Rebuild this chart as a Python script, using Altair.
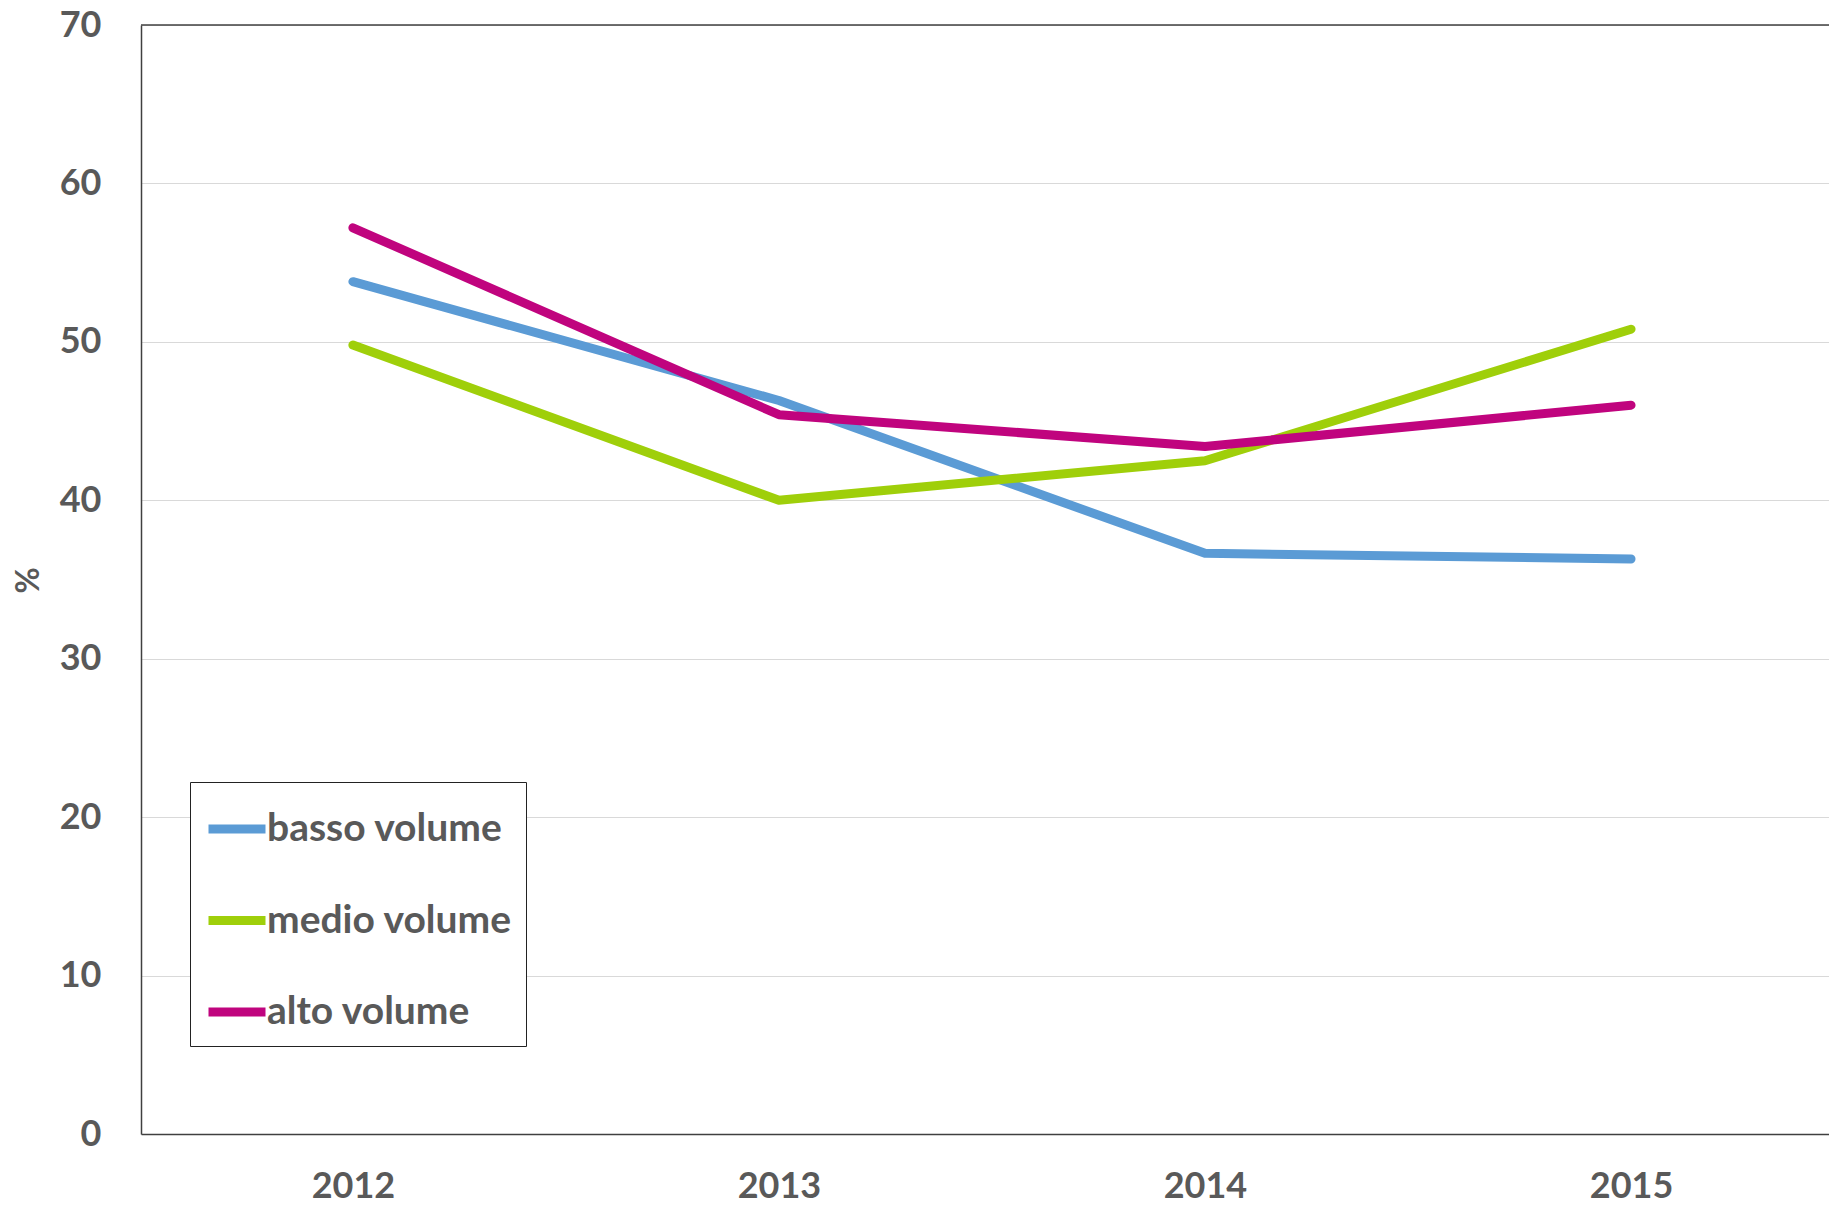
import altair as alt
import pandas as pd

years = ["2012", "2013", "2014", "2015"]
series_names = ["basso volume", "medio volume", "alto volume"]
basso = [53.8, 46.3, 36.65, 36.3]
medio = [49.8, 40.0, 42.5, 50.8]
alto = [57.2, 45.4, 43.4, 46.0]
colors = ["#5B9BD5", "#9FCF0A", "#C0047E"]
y_ticks = [0, 10, 20, 30, 40, 50, 60, 70]
y_max = 70

rows = []
for name, vals in zip(series_names, [basso, medio, alto]):
    for yr, v in zip(years, vals):
        rows.append({"anno": yr, "valore": v, "serie": name})
df = pd.DataFrame(rows)

FONT = "Lato"
GRAY = "#595959"
BORDER = "#404040"

y_scale = alt.Scale(domain=[0, y_max], nice=False)

lines = alt.Chart(df).mark_line(strokeWidth=9, strokeCap="round", strokeJoin="round").encode(
    x=alt.X("anno:N", sort=years,
            scale=alt.Scale(type="point", padding=0.481, align=0.517),
            axis=alt.Axis(title=None, labelAngle=0, ticks=False, domain=True,
                          domainColor=BORDER, domainWidth=1.5,
                          labelFont=FONT, labelFontSize=36, labelFontWeight="bold",
                          labelColor=GRAY, labelPadding=63, labelBaseline="alphabetic")),
    y=alt.Y("valore:Q", scale=y_scale,
            axis=alt.Axis(title="%", values=y_ticks, ticks=False, domain=True,
                          domainColor=BORDER, domainWidth=1.5,
                          grid=True, gridColor="#D9D9D9", gridWidth=1.2,
                          labelFont=FONT, labelFontSize=36, labelFontWeight="bold",
                          labelColor=GRAY, labelPadding=40,
                          titleFont=FONT, titleFontSize=32, titleFontWeight="bold",
                          titleColor=GRAY, titleX=-113, titleY=555, titleAngle=270,
                          titleBaseline="middle", titleAlign="center")),
    color=alt.Color("serie:N", sort=series_names,
                    scale=alt.Scale(domain=series_names, range=colors),
                    legend=alt.Legend(title=None, orient="none", legendX=49, legendY=757,
                                      direction="vertical",
                                      fillColor="white", strokeColor="#222222",
                                      padding=14, rowPadding=38.5,
                                      symbolType="stroke", symbolSize=3249,
                                      symbolStrokeWidth=9, labelOffset={"expr": "-3"},
                                      labelFont=FONT, labelFontSize=39,
                                      labelFontWeight="bold", labelColor=GRAY,
                                      labelLimit=400)),
)

top_border = alt.Chart(pd.DataFrame({"top": [y_max]})).mark_rule(
    color=BORDER, strokeWidth=1.5
).encode(y=alt.Y("top:Q", scale=y_scale))

chart = alt.layer(top_border, lines).properties(
    width=1688,
    height=1109,
    autosize=alt.AutoSizeParams(type="none"),
    padding={"left": 133, "top": 17, "right": 0, "bottom": 65},
    background="white",
).configure_view(
    stroke=None
)

chart.save("out.html", embed_options={"renderer": "svg", "actions": False})
